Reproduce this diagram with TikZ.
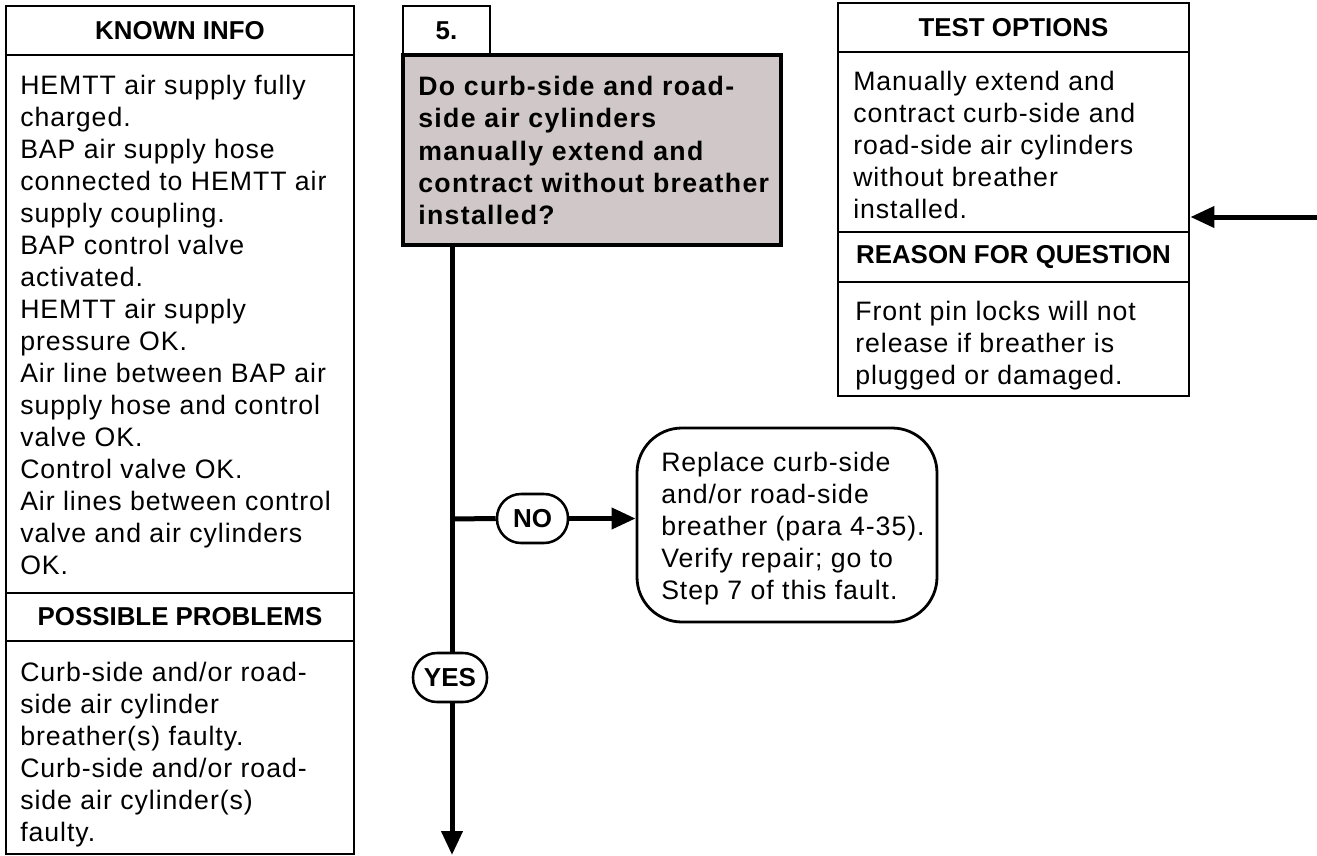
\documentclass[tikz,border=0pt]{standalone}
\usepackage{fontspec}
\setmainfont{Liberation Sans}
\newfontfamily\bodyf{Liberation Sans}[LetterSpace=3.6]
\newfontfamily\qf{Liberation Sans}[LetterSpace=5]
\usetikzlibrary{arrows.meta,fit}
\definecolor{qgray}{RGB}{208,200,200}
\tikzset{
  boxline/.style={line width=2.1pt},
  frame/.style={draw, line width=2.1pt, inner sep=0pt},
  hdr/.style={font=\fontsize{19.4}{23}\selectfont\bfseries, inner sep=0pt},
  bodytext/.style={font=\bodyf\fontsize{20}{24}\selectfont, align=left, anchor=north west, inner sep=0pt},
  qtext/.style={font=\qf\bfseries\fontsize{20}{24.2}\selectfont, align=left, anchor=north west, inner sep=0pt},
  conn/.style={line width=3.75pt},
  tipped/.style={-{Triangle[length=18pt,width=15.5pt]}},
  pill/.style={draw, line width=1.9pt, rounded corners=18pt, minimum height=36.75pt, inner sep=0pt, font=\fontsize{19.5}{22}\selectfont\bfseries}
}
\begin{document}
\begin{tikzpicture}[x=0.75pt,y=-0.75pt]
\useasboundingbox (0,0) rectangle (1317,856);

% ---- left box: known info / possible problems
\node[frame, fit={(6,6) (354,854)}] (left) {};
\draw[boxline] (6,55) -- (354,55);
\draw[boxline] (6,593) -- (354,593);
\draw[boxline] (6,641) -- (354,641);
\node[hdr] (kih) at (180,30.5) {KNOWN INFO};
\node[bodytext] (kit) at (20,75) {HEMTT air supply fully\\charged.\\BAP air supply hose\\connected to HEMTT air\\supply coupling.\\BAP control valve\\activated.\\HEMTT air supply\\pressure OK.\\Air line between BAP air\\supply hose and control\\valve OK.\\Control valve OK.\\Air lines between control\\valve and air cylinders\\OK.};
\node[hdr] (pph) at (180,617) {POSSIBLE PROBLEMS};
\node[bodytext] (ppt) at (20,662) {Curb-side and/or road-\\side air cylinder\\breather(s) faulty.\\Curb-side and/or road-\\side air cylinder(s)\\faulty.};

% ---- step 5 question
\node[frame, fit={(403,6) (490,55)}] (step) {};
\node[hdr] (stepn) at (446.5,30.5) {5.};
\node[frame, fill=qgray, line width=2.4pt, fit={(403,55) (781,245)}] (q) {};
\node[qtext] (qt) at (418,76) {Do curb-side and road-\\side air cylinders\\manually extend and\\contract without breather\\installed?};

% ---- test options / reason for question
\node[frame, fit={(838,3) (1189,396)}] (test) {};
\draw[boxline] (838,52) -- (1189,52);
\draw[boxline] (838,232) -- (1189,232);
\draw[boxline] (838,282) -- (1189,282);
\node[hdr] (toh) at (1013.5,28) {TEST OPTIONS};
\node[bodytext] (tot) at (853,71) {Manually extend and\\contract curb-side and\\road-side air cylinders\\without breather\\installed.};
\node[hdr] (rfh) at (1013.5,257.5) {REASON FOR QUESTION};
\node[bodytext] (rft) at (855,301) {Front pin locks will not\\release if breather is\\plugged or damaged.};

% ---- NO branch
\node[pill, minimum width=53.25pt] (no) at (532.5,518.5) {NO};
\node[frame, rounded corners=33.75pt, fit={(637,428) (937,622)}] (rep) {};
\node[bodytext] (rept) at (661,452) {Replace curb-side\\and/or road-side\\breather (para 4-35).\\Verify repair; go to\\Step 7 of this fault.};

% ---- YES branch
\node[pill, minimum width=55.5pt] (yes) at (450,677.5) {YES};

% ---- connectors
\coordinate (qout) at (452,245);
\coordinate (br) at (452,519);
\coordinate (bottom) at (452,855);
\coordinate (inR) at (1317,217);
\draw[conn] (qout) -- (qout |- yes.north);
\draw[conn] (br) -- (no.west);
\draw[conn, tipped] (no.east) -- (rep.west |- no.east);
\draw[conn, tipped] (yes.south -| qout) -- (bottom);
\draw[conn, tipped] (inR) -- (inR -| test.east);
\end{tikzpicture}
\end{document}
